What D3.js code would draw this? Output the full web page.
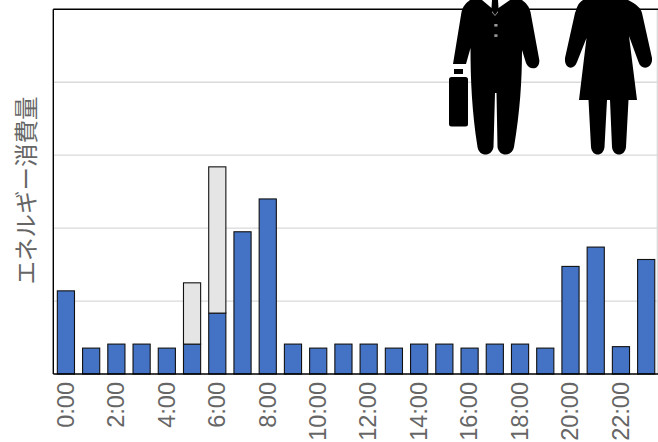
<!DOCTYPE html>
<html>
<head>
<meta charset="utf-8">
<script src="https://cdn.jsdelivr.net/npm/d3@7"></script>
<style>
html,body{margin:0;padding:0;background:#fff;overflow:hidden}
svg{display:block}
.labels{opacity:.999}
text{fill:#666}
</style>
</head>
<body>
<svg id="chart" width="658" height="442"></svg>
<script>
// Hourly energy use: base load plus the extra morning demand stacked above it
const hours = ["0:00","1:00","2:00","3:00","4:00","5:00","6:00","7:00","8:00","9:00","10:00","11:00",
  "12:00","13:00","14:00","15:00","16:00","17:00","18:00","19:00","20:00","21:00","22:00","23:00"];
const baseLoad = [1.14,0.355,0.41,0.41,0.355,0.41,0.835,1.95,2.40,0.41,0.355,0.41,
  0.41,0.355,0.41,0.41,0.355,0.41,0.41,0.355,1.475,1.74,0.375,1.57];
const extraLoad = [0,0,0,0,0,0.84,2.005,0,0,0,0,0,0,0,0,0,0,0,0,0,0,0,0,0];
const yTicks = [0,1,2,3,4,5];
const yTitle = "エネルギー消費量";

const svg = d3.select("#chart");
const plot = {left:53.3, right:658.8, top:9.3, bottom:374};

const x = d3.scaleBand().domain(hours).range([plot.left, plot.right]).paddingInner(0.32).paddingOuter(0.16);
const y = d3.scaleLinear().domain([0,5]).range([plot.bottom, plot.top]);

// Horizontal gridlines and the pale right edge of the plot
const grid = svg.append("g").attr("stroke", "#d9d9d9").attr("stroke-width", 1.3);
grid.selectAll("line.h").data(yTicks.slice(1,5)).join("line").attr("class","h")
  .attr("x1", plot.left).attr("x2", 658)
  .attr("y1", d => y(d)).attr("y2", d => y(d));
grid.append("line").attr("x1", 657.3).attr("x2", 657.3).attr("y1", plot.top).attr("y2", plot.bottom);

// Stacked bars
const stack = d3.stack().keys(["base","extra"])(hours.map((h,i) => ({hour:h, base:baseLoad[i], extra:extraLoad[i]})));
const fills = {base:"#4472c4", extra:"#e5e5e5"};
svg.append("g").selectAll("g").data(stack).join("g")
  .attr("fill", d => fills[d.key])
  .selectAll("rect").data(d => d.filter(p => p[1] > p[0])).join("rect")
  .attr("x", d => x(d.data.hour))
  .attr("y", d => y(d[1]))
  .attr("width", x.bandwidth())
  .attr("height", d => y(d[0]) - y(d[1]))
  .attr("stroke", "#111").attr("stroke-width", 1.1);

// Plot frame: left, top and baseline
const frame = svg.append("g").attr("stroke", "#000");
frame.append("line").attr("x1", plot.left).attr("x2", plot.left).attr("y1", plot.top).attr("y2", plot.bottom).attr("stroke-width",1.4);
frame.append("line").attr("x1", plot.left).attr("x2", 658).attr("y1", plot.top).attr("y2", plot.top).attr("stroke-width",1.4);
frame.append("line").attr("x1", plot.left).attr("x2", 658).attr("y1", plot.bottom).attr("y2", plot.bottom).attr("stroke-width",1.7);

// Every second hour is labelled, rotated along the axis
const axis = d3.axisBottom(x).tickValues(hours.filter((h,i) => i % 2 === 0)).tickSize(0).tickPadding(0);
const axisG = svg.append("g").attr("class","labels").attr("transform", `translate(-0.4,${plot.bottom})`).call(axis);
axisG.select(".domain").remove();
axisG.selectAll("text")
  .attr("transform", "rotate(-90)")
  .attr("x", -8).attr("y", 0).attr("dy", "0.35em")
  .attr("text-anchor", "end")
  .style("font-size", "23.5px")
  .style("font-family", '"Liberation Sans",Arial,sans-serif');

// Vertical axis title
svg.append("g").attr("class","labels").append("text")
  .attr("transform", "translate(25,190.5) rotate(-90)")
  .attr("text-anchor", "middle").attr("dominant-baseline", "central")
  .style("font-family", '"Noto Sans CJK JP",sans-serif')
  .style("font-size", "23.5px")
  .text(yTitle);

// Pictograms of a businessman with a briefcase and a businesswoman
const icons = svg.append("g").attr("fill", "#000");
icons.append("path").attr("d",
  "M470,0 L482,0 L491.5,8 L492,0 L498,0 L498.5,8 L510,0 L522,0 C526,3 529,6 530.5,12 " +
  "L539.3,60 C540,70 529,71 526,63 L522,50 " +
  "C522,80 520,112 514,147 C512,157 499,157 497.5,147 L496.5,93 L495,93 L493.5,147 " +
  "C492,157 479,157 477.5,147 C472,112 470.5,80 470.5,48 L466,64 L453,64 L461.5,12 C463,6 466,3 470,0 Z");
icons.append("rect").attr("x",449).attr("y",77).attr("width",19).attr("height",49.5).attr("rx",2.5);
icons.append("rect").attr("x",454).attr("y",69).attr("width",9).attr("height",5);
icons.append("path").attr("d",
  "M583,0 L628,0 C636,4 641,8 642,13 L652,58 C653,69 641,71 638.5,62 L629,36 L637,100 L628.5,100 " +
  "L626,147 C625,157 613,157 612,147 L610,100 L607,100 L604.5,147 C603.5,157 592,157 591,147 L588.5,100 L579,100 L586.5,38 " +
  "L577,62 C574,71 564,69 565,58 L575,13 C577,8 577,4 583,0 Z");
// Collar and shirt buttons on the jacket
icons.append("path").attr("d","M492,11 L495,15 L498,11 L498,12.5 L495,16 L492,12.5 Z").attr("fill","#999");
icons.append("g").attr("fill","#999").selectAll("rect").data([0,1]).join("rect")
  .attr("x",494.3).attr("y",(d,i)=>24+i*10.3).attr("width",3.2).attr("height",2.6);
</script>
</body>
</html>
